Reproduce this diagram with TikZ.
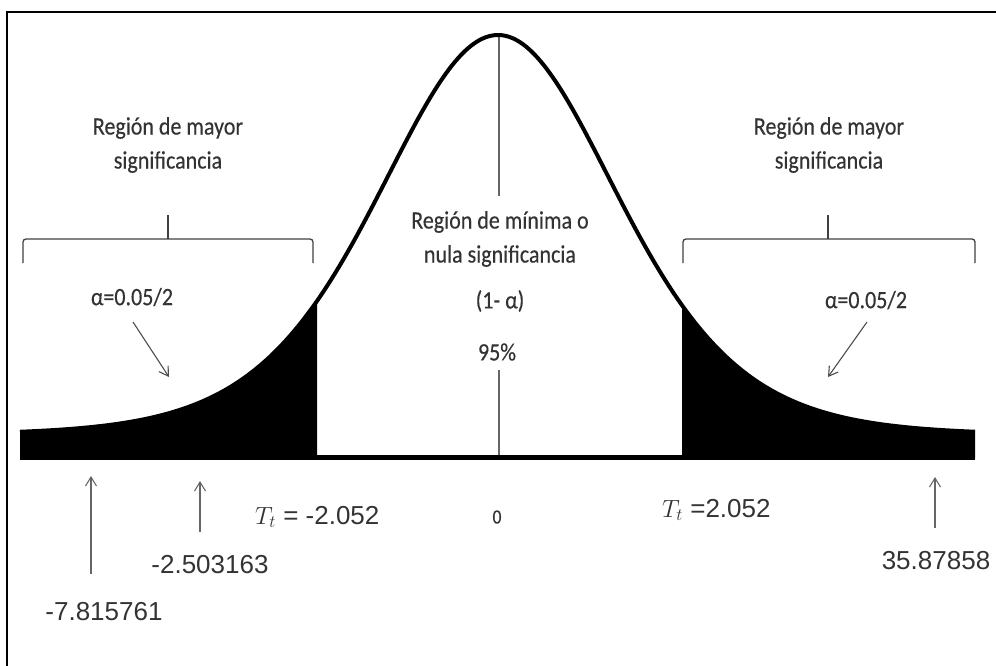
\documentclass[tikz,border=0pt]{standalone}
\usepackage{fontspec}
\setmainfont{Carlito}
\newfontfamily\narrowf[FakeStretch=0.88,FakeBold=0.3]{Carlito}
\newfontfamily\arialf{Liberation Sans}
\usetikzlibrary{arrows.meta}
\begin{document}
\begin{tikzpicture}[x=1pt,y=-1pt,
  declare function={hh(\t)=22+400/((1+((\t-498)/122)^2/8)^4.5);},
  lbl/.style={font=\narrowf\fontsize{25}{34}\selectfont, text=black!80, align=center, inner sep=0pt},
  num/.style={font=\arialf\fontsize{26}{30}\selectfont, text=black!80, inner sep=0pt},
  brace/.style={draw=black!75, line width=1.3pt, rounded corners=3pt},
  garrow/.style={draw=black!60, line width=1.1pt, -{Straight Barb[length=9pt,width=11pt,line width=1.1pt]}},
  darrow/.style={draw=black!70, line width=1.1pt, -{Straight Barb[length=9pt,width=11pt,line width=1.1pt]}},
]
\useasboundingbox (0,0) rectangle (996,666);
% frame (top and left only)
\draw[line width=2.5pt] (7,666) -- (7,12) -- (996,12);

% tails
\fill (20,459) -- plot[domain=20:317,samples=80] (\x,{457-hh(\x)}) -- (317,459) -- cycle;
\fill (682,459) -- plot[domain=682:975,samples=80] (\x,{457-hh(\x)}) -- (975,459) -- cycle;
% centre line
\draw[black!60, line width=1.2pt] (499,37) -- (499,455);
% curve
\draw[line width=4pt, line join=round] plot[domain=20:975, samples=241, smooth] (\x,{457-hh(\x)});
% baseline
\draw[line width=5pt] (20,457) -- (975,457);

% braces
\draw[brace] (23,263) -- (23,239) -- (313,239) -- (313,263);
\draw[brace] (168,239) -- (168,215);
\draw[brace] (683,263) -- (683,239) -- (975,239) -- (975,263);
\draw[brace] (828,239) -- (828,215);

% region labels
\node[lbl] (Ltitle) at (168,145) {Región de mayor\\significancia};
\node[lbl] (Rtitle) at (829,145) {Región de mayor\\significancia};
\fill[white] (402,196) rectangle (598,370);
\node[lbl] (C1) at (500,222) {Región de mínima o};
\node[lbl] (C2) at (500,256) {nula significancia};
\node[lbl] (C3) at (500,301) {(1- α)};
\node[lbl] (C4) at (497,352) {95\%};

% alpha labels and arrows
\node[lbl] (La) at (132,297) {α=0.05/2};
\node[lbl] (Ra) at (866,300) {α=0.05/2};
\coordinate (Las) at (133,322);
\coordinate (Lae) at (169,377);
\coordinate (Ras) at (867,322);
\coordinate (Rae) at (828,377);
\draw[darrow] (Las) -- (Lae);
\draw[darrow] (Ras) -- (Rae);

% bottom labels
\node[lbl, font=\narrowf\fontsize{20}{22}\selectfont] (zero) at (497,517) {0};
\node[num, anchor=west] (Tl) at (255,517) {{\fontsize{24}{24}\selectfont$T_t$} = -2.052};
\node[num, anchor=west] (Tr) at (662,510) {{\fontsize{24}{24}\selectfont$T_t$} =2.052};
\node[num] (n1) at (104,612) {-7.815761};
\node[num] (n2) at (210,565) {-2.503163};
\node[num] (n3) at (936,561) {35.87858};

% bottom arrows
\coordinate (b1s) at (91,574);
\coordinate (b1e) at (91,476);
\coordinate (b2s) at (200,532);
\coordinate (b2e) at (200,481);
\coordinate (b3s) at (935,528);
\coordinate (b3e) at (935,477);
\draw[garrow] (b1s) -- (b1e);
\draw[garrow] (b2s) -- (b2e);
\draw[garrow] (b3s) -- (b3e);
\end{tikzpicture}
\end{document}
